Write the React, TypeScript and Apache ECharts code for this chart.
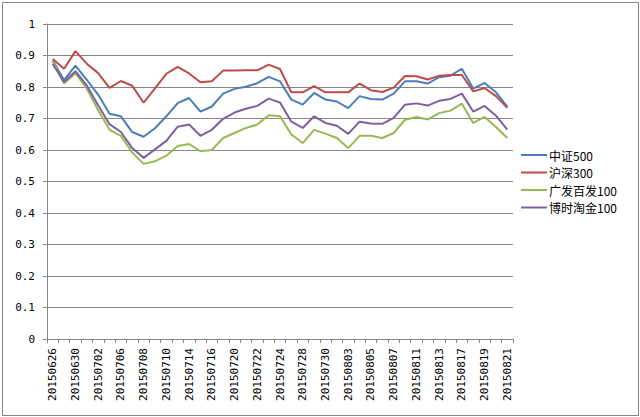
import React, { useEffect, useRef } from "react";
import * as echarts from "echarts";

const dates = [
  "20150626", "20150629", "20150630", "20150701", "20150702", "20150703", "20150706", "20150707",
  "20150708", "20150709", "20150710", "20150713", "20150714", "20150715", "20150716", "20150717",
  "20150720", "20150721", "20150722", "20150723", "20150724", "20150727", "20150728", "20150729",
  "20150730", "20150731", "20150803", "20150804", "20150805", "20150806", "20150807", "20150810",
  "20150811", "20150812", "20150813", "20150814", "20150817", "20150818", "20150819", "20150820",
  "20150821",
];

const zz500 = [
  0.884, 0.822, 0.868, 0.823, 0.776, 0.715, 0.707, 0.657, 0.642, 0.669, 0.707, 0.749, 0.765, 0.722,
  0.738, 0.779, 0.794, 0.801, 0.812, 0.832, 0.818, 0.760, 0.744, 0.781, 0.760, 0.754, 0.733, 0.771,
  0.762, 0.760, 0.779, 0.818, 0.818, 0.811, 0.831, 0.836, 0.858, 0.795, 0.813, 0.783, 0.738,
];

const hs300 = [
  0.889, 0.858, 0.914, 0.874, 0.844, 0.797, 0.819, 0.804, 0.750, 0.796, 0.842, 0.864, 0.843, 0.815,
  0.818, 0.852, 0.852, 0.853, 0.853, 0.871, 0.857, 0.783, 0.783, 0.803, 0.783, 0.783, 0.783, 0.811,
  0.790, 0.784, 0.798, 0.835, 0.834, 0.824, 0.836, 0.838, 0.838, 0.786, 0.797, 0.771, 0.734,
];

const gfbf100 = [
  0.882, 0.811, 0.844, 0.795, 0.726, 0.664, 0.645, 0.592, 0.556, 0.564, 0.582, 0.613, 0.619, 0.596,
  0.600, 0.638, 0.654, 0.670, 0.681, 0.710, 0.707, 0.649, 0.622, 0.664, 0.652, 0.638, 0.606, 0.645,
  0.645, 0.638, 0.654, 0.696, 0.705, 0.697, 0.717, 0.725, 0.747, 0.686, 0.705, 0.673, 0.638,
];

const bstj100 = [
  0.873, 0.816, 0.850, 0.805, 0.742, 0.682, 0.657, 0.606, 0.575, 0.602, 0.629, 0.674, 0.681, 0.645,
  0.664, 0.699, 0.719, 0.731, 0.740, 0.763, 0.751, 0.690, 0.670, 0.707, 0.686, 0.677, 0.651, 0.690,
  0.684, 0.683, 0.702, 0.744, 0.748, 0.741, 0.756, 0.762, 0.779, 0.722, 0.740, 0.709, 0.665,
];

const seriesNames = ["中证500", "沪深300", "广发百发100", "博时淘金100"];
const seriesData = [zz500, hs300, gfbf100, bstj100];
const seriesColors = ["#4A7EBB", "#BE4B48", "#98B954", "#7D60A0"];

export default function App() {
  const ref = useRef<HTMLDivElement>(null);

  useEffect(() => {
    if (!ref.current) return;
    const chart = echarts.init(ref.current, undefined, { renderer: "svg" });
    const gray = "#868686";
    chart.setOption({
      animation: false,
      backgroundColor: "#ffffff",
      graphic: [
        {
          type: "rect",
          shape: { x: 2.5, y: 2.5, width: 636, height: 413 },
          style: { fill: "none", stroke: gray, lineWidth: 1 },
          silent: true,
        },
      ],
      grid: { left: 47, right: 127, top: 24, bottom: 78, containLabel: false },
      legend: {
        orient: "vertical",
        left: 521,
        top: 148,
        padding: 0,
        itemWidth: 26,
        itemHeight: 14,
        itemGap: 3.5,
        icon: "path://M0,6 L26,6 L26,8 L0,8 Z",
        data: seriesNames,
        textStyle: {
          fontFamily: "Noto Sans CJK SC",
          fontSize: 12,
          lineHeight: 14,
          height: 14,
          color: "#000",
          padding: [0, 0, 0, -3],
        },
      },
      xAxis: {
        type: "category",
        data: dates,
        boundaryGap: true,
        axisLine: { show: true, lineStyle: { color: gray, width: 1 } },
        axisTick: { show: true, length: 4, interval: 0, lineStyle: { color: gray } },
        axisLabel: {
          interval: 1,
          rotate: 90,
          margin: 9,
          fontFamily: "DejaVu Sans Mono",
          fontSize: 11,
          color: "#000",
        },
        splitLine: { show: false },
      },
      yAxis: {
        type: "value",
        min: 0,
        max: 1,
        interval: 0.1,
        axisLine: { show: true, lineStyle: { color: gray, width: 1 } },
        axisTick: { show: true, length: 4, lineStyle: { color: gray } },
        axisLabel: {
          margin: 12,
          fontFamily: "DejaVu Sans Mono",
          fontSize: 11,
          color: "#000",
          formatter: (v: number) => String(+v.toFixed(1)),
        },
        splitLine: { show: true, lineStyle: { color: gray, width: 1 } },
      },
      series: seriesNames.map((name, i) => ({
        name,
        type: "line",
        data: seriesData[i],
        symbol: "none",
        showSymbol: false,
        color: seriesColors[i],
        lineStyle: { color: seriesColors[i], width: 2 },
      })),
    });
    return () => chart.dispose();
  }, []);

  return (
    <div
      ref={ref}
      style={{ position: "absolute", left: 0, top: 0, width: 640, height: 417, background: "#fff" }}
    />
  );
}
